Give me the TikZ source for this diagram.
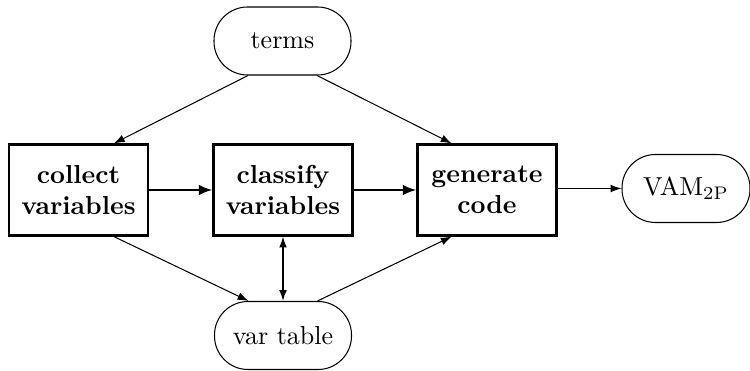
\documentclass[tikz,border=0pt]{standalone}
\usetikzlibrary{calc,arrows.meta}
\newdimen\px \px=0.3846pt
\tikzset{
  procbox/.style={draw, thick, rectangle, minimum width=139\px, minimum height=91\px, align=center, font=\bfseries, inner sep=0pt},
  databox/.style={draw, rectangle, rounded corners=33.5\px, minimum width=137\px, minimum height=68\px, align=center, inner sep=0pt},
  flow/.style={-{Latex[length=4.2pt,width=3pt]}},
  mainflow/.style={-{Latex[length=5.2pt,width=4pt]}, thick},
  bothflow/.style={{Latex[length=4.2pt,width=3pt]}-{Latex[length=4.2pt,width=3pt]}, semithick},
}
\begin{document}
\begin{tikzpicture}[x=\px, y=-\px]
\useasboundingbox (0,0) rectangle (750,371);
\node[databox] (terms) at (282.5,41) {terms};
\node[procbox] (collect) at (78.5,190) {collect\\variables};
\node[procbox] (classify) at (283,190) {classify\\variables};
\node[procbox] (generate) at (487,190) {generate\\code};
\node[databox, minimum width=128\px] (vam) at (686,188.5) {VAM$_{\mathrm{2P}}$};
\node[databox] (vartable) at (283,335.5) {var table};
\draw[mainflow] (collect) -- (classify);
\draw[mainflow] (classify) -- (generate);
\draw[flow] (generate.east |- vam.west) -- (vam.west);
\draw[flow] ($(terms.south west)!0.25!(terms.south east)$) -- ($(collect.north west)!0.75!(collect.north east)$);
\draw[flow] ($(terms.south west)!0.75!(terms.south east)$) -- ($(generate.north west)!0.25!(generate.north east)$);
\draw[flow] ($(collect.south west)!0.75!(collect.south east)$) -- ($(vartable.north west)!0.25!(vartable.north east)$);
\draw[flow] ($(vartable.north west)!0.75!(vartable.north east)$) -- ($(generate.south west)!0.25!(generate.south east)$);
\draw[bothflow] (classify.south) -- (vartable.north);
\end{tikzpicture}
\end{document}
